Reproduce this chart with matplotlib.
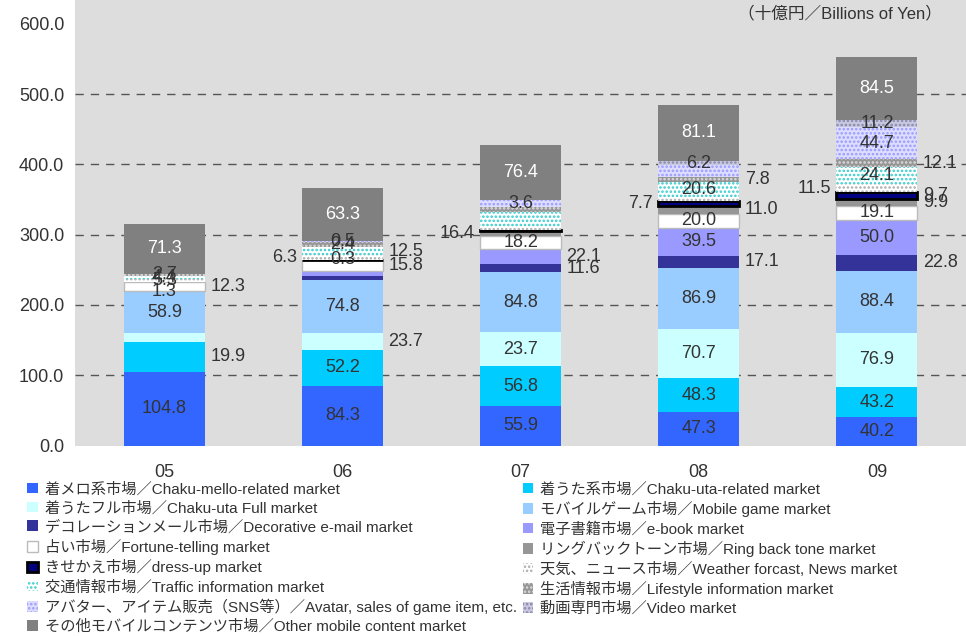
import matplotlib
matplotlib.use('Agg')
import matplotlib.pyplot as plt
import numpy as np

plt.rcParams['font.family'] = ['Liberation Sans', 'Noto Sans CJK JP', 'DejaVu Sans']
plt.rcParams['hatch.linewidth'] = 1.2

# Years on the x axis
years = ['05', '06', '07', '08', '09']

# Series values (bottom to top). Heights as drawn in the picture.
melo      = [104.8, 84.3, 55.9, 47.3, 40.2]
uta       = [43.0, 52.2, 56.8, 48.3, 43.2]
uta_full  = [11.8, 23.7, 49.0, 70.7, 76.9]
game      = [58.9, 74.8, 84.8, 86.9, 88.4]
deco      = [1.3, 6.1, 11.6, 17.1, 22.8]
ebook     = [0.0, 7.1, 22.1, 39.5, 50.0]
fortune   = [12.3, 15.8, 18.2, 20.0, 19.1]
ringback  = [0.0, 0.0, 7.0, 11.0, 9.9]
dressup   = [0.0, 0.3, 2.0, 7.7, 9.7]
weather   = [5.3, 6.3, 4.5, 5.7, 11.5]
traffic   = [4.4, 12.4, 21.0, 20.6, 24.1]
lifestyle = [2.7, 6.0, 6.0, 7.8, 12.1]
avatar    = [0.0, 1.5, 10.0, 16.0, 44.7]
video     = [0.0, 0.0, 0.0, 6.2, 11.2]
other     = [71.3, 75.5, 78.9, 79.9, 89.0]

# Data label texts as printed ('>' = right of bar, '<' = left of bar, '' = none)
lab_melo      = ['104.8', '84.3', '55.9', '47.3', '40.2']
lab_uta       = ['>19.9', '52.2', '56.8', '48.3', '43.2']
lab_uta_full  = ['', '>23.7', '23.7', '70.7', '76.9']
lab_game      = ['58.9', '74.8', '84.8', '86.9', '88.4']
lab_deco      = ['1.3', '', '>11.6', '>17.1', '>22.8']
lab_ebook     = ['', '', '>22.1', '39.5', '50.0']
lab_fortune   = ['>12.3', '>15.8', '18.2', '20.0', '19.1']
lab_ringback  = ['', '', '<16.4', '>11.0', '>9.9']
lab_dressup   = ['', '0.3', '', '<7.7', '>9.7']
lab_weather   = ['5.3', '<6.3', '', '', '<11.5']
lab_traffic   = ['4.4', '>12.5', '', '20.6', '24.1']
lab_lifestyle = ['2.7', '2.4', '', '>7.8', '>12.1']
lab_avatar    = ['', '0.5', '3.6', '', '44.7']
lab_video     = ['', '', '', '6.2', '11.2']
lab_other     = ['71.3', '63.3', '76.4', '81.1', '84.5']

names = [
    '着メロ系市場／Chaku-mello-related market',
    '着うた系市場／Chaku-uta-related market',
    '着うたフル市場／Chaku-uta Full market',
    'モバイルゲーム市場／Mobile game market',
    'デコレーションメール市場／Decorative e-mail market',
    '電子書籍市場／e-book market',
    '占い市場／Fortune-telling market',
    'リングバックトーン市場／Ring back tone market',
    'きせかえ市場／dress-up market',
    '天気、ニュース市場／Weather forcast, News market',
    '交通情報市場／Traffic information market',
    '生活情報市場／Lifestyle information market',
    'アバター、アイテム販売（SNS等）／Avatar, sales of game item, etc.',
    '動画専門市場／Video market',
    'その他モバイルコンテンツ市場／Other mobile content market',
]

series = [melo, uta, uta_full, game, deco, ebook, fortune, ringback, dressup,
          weather, traffic, lifestyle, avatar, video, other]
labels = [lab_melo, lab_uta, lab_uta_full, lab_game, lab_deco, lab_ebook,
          lab_fortune, lab_ringback, lab_dressup, lab_weather, lab_traffic,
          lab_lifestyle, lab_avatar, lab_video, lab_other]

# face, edge/hatch colour, hatch, edge linewidth
styles = [
    ('#3366FF', 'none', None, 0),
    ('#00CCFF', 'none', None, 0),
    ('#CCFFFF', 'none', None, 0),
    ('#99CCFF', 'none', None, 0),
    ('#333399', 'none', None, 0),
    ('#9999FF', 'none', None, 0),
    ('#FFFFFF', '#BBBBBB', None, 1.0),
    ('#969696', 'none', None, 0),
    ('#000080', '#000000', None, 2.0),
    ('#FFFFFF', '#AAAAAA', '....', 0),
    ('#FFFFFF', '#33CCCC', '....', 0),
    ('#969696', '#DDDDDD', '....', 0),
    ('#DDDDFF', '#9999FF', '....', 0),
    ('#C8C8E0', '#8888AA', '....', 0),
    ('#808080', 'none', None, 0),
]

fig = plt.figure(figsize=(9.66, 6.36), dpi=100)
ax = fig.add_axes([0.078, 0.2995, 0.922, 0.7005])
ax.set_facecolor('#DDDDDD')

x = np.arange(len(years))
width = 0.455
bottom = np.zeros(len(years))
handles = []
for k, (vals, labs, (fc, ec, hatch, lw)) in enumerate(zip(series, labels, styles)):
    vals = np.array(vals)
    mask = vals > 0
    ax.bar(x[mask], vals[mask], width, bottom=bottom[mask], color=fc,
           edgecolor=ec, hatch=hatch, linewidth=lw, zorder=3)
    handles.append(plt.Rectangle((0, 0), 1, 1, facecolor=fc, edgecolor=ec,
                                 hatch=hatch, linewidth=lw))
    col = 'white' if k == len(series) - 1 else '#333333'
    for i, t in enumerate(labs):
        if not t:
            continue
        yc = bottom[i] + vals[i] / 2
        if t[0] == '>':
            ax.text(x[i] + width / 2 + 0.03, yc, t[1:], ha='left', va='center',
                    fontsize=13, color='#333333', zorder=5)
        elif t[0] == '<':
            ax.text(x[i] - width / 2 - 0.03, yc, t[1:], ha='right', va='center',
                    fontsize=13, color='#333333', zorder=5)
        else:
            ax.text(x[i], yc, t, ha='center', va='center', fontsize=13,
                    color=col, zorder=5)
    bottom += vals

ax.set_xlim(-0.5, 4.5)
ax.set_ylim(0, 634)
ax.set_yticks(np.arange(0, 601, 100))
ax.set_yticklabels([f'{v:.1f}' for v in np.arange(0, 601, 100)])
ax.set_xticks(x)
ax.set_xticklabels(years)
ax.tick_params(axis='both', length=0, labelsize=13, colors='#333333')
ax.tick_params(axis='x', pad=13)
ax.tick_params(axis='y', pad=8)
for v in range(100, 600, 100):
    ax.axhline(v, color='#555555', linestyle=(0, (6, 5)), linewidth=1, zorder=1)
for s in ax.spines.values():
    s.set_visible(False)

fig.text(0.975, 0.979, '（十億円／Billions of Yen）', ha='right', va='center',
         fontsize=12, color='#333333')

# legend reads row by row in the reference: left column = even items, right = odd
leg_kw = dict(loc='upper left', frameon=False, fontsize=11, handlelength=0.7,
              handleheight=0.7, handletextpad=0.45, labelspacing=0.3,
              borderpad=0, borderaxespad=0, labelcolor='#333333')
left_items = list(range(0, len(names), 2))
right_items = list(range(1, len(names), 2))
fig.legend([handles[i] for i in left_items], [names[i] for i in left_items],
           bbox_to_anchor=(0.028, 0.242), **leg_kw)
fig.legend([handles[i] for i in right_items], [names[i] for i in right_items],
           bbox_to_anchor=(0.541, 0.242), **leg_kw)

fig.savefig('out.png', dpi=100)
